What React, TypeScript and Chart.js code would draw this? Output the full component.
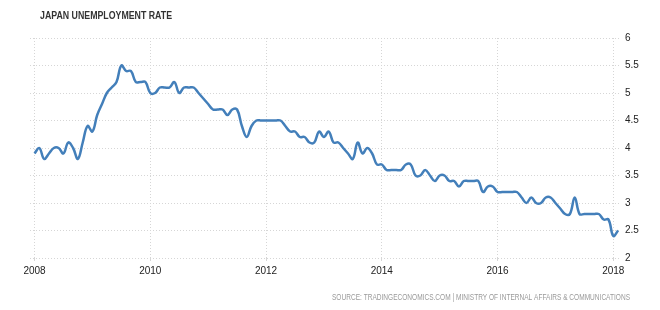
import React, { useEffect, useRef } from "react";
import { Chart, registerables } from "chart.js";

Chart.register(...registerables);

const TITLE = "JAPAN UNEMPLOYMENT RATE";
const SOURCE = "SOURCE: TRADINGECONOMICS.COM | MINISTRY OF INTERNAL AFFAIRS & COMMUNICATIONS";

const START_YEAR = 2008;
const rate2008 = [3.9, 4.0, 3.8, 3.9, 4.0, 4.0, 3.9, 4.1, 4.0, 3.8, 4.1, 4.4];
const rate2009 = [4.3, 4.6, 4.8, 5.0, 5.1, 5.2, 5.5, 5.4, 5.4, 5.2, 5.2, 5.2];
const rate2010 = [5.0, 5.0, 5.1, 5.1, 5.1, 5.2, 5.0, 5.1, 5.1, 5.1, 5.0, 4.9];
const rate2011 = [4.8, 4.7, 4.7, 4.7, 4.6, 4.7, 4.7, 4.4, 4.2, 4.4, 4.5, 4.5];
const rate2012 = [4.5, 4.5, 4.5, 4.5, 4.4, 4.3, 4.3, 4.2, 4.2, 4.1, 4.1, 4.3];
const rate2013 = [4.2, 4.3, 4.1, 4.1, 4.0, 3.9, 3.8, 4.1, 3.9, 4.0, 3.9, 3.7];
const rate2014 = [3.7, 3.6, 3.6, 3.6, 3.6, 3.7, 3.7, 3.5, 3.5, 3.6, 3.5, 3.4];
const rate2015 = [3.5, 3.5, 3.4, 3.4, 3.3, 3.4, 3.4, 3.4, 3.4, 3.2, 3.3, 3.3];
const rate2016 = [3.2, 3.2, 3.2, 3.2, 3.2, 3.1, 3.0, 3.1, 3.0, 3.0, 3.1, 3.1];
const rate2017 = [3.0, 2.9, 2.8, 2.8, 3.1, 2.8, 2.8, 2.8, 2.8, 2.8, 2.7, 2.7];
const rate2018 = [2.4, 2.5];

const yearlyRates = [
  rate2008, rate2009, rate2010, rate2011, rate2012, rate2013,
  rate2014, rate2015, rate2016, rate2017, rate2018,
];

const xTickYears = [2008, 2010, 2012, 2014, 2016, 2018];
const yTickValues = [2, 2.5, 3, 3.5, 4, 4.5, 5, 5.5, 6];

const FONT = "'Liberation Sans', Arial, sans-serif";
const PX_PER_YEAR = 57.88;

const textPlugin = {
  id: "staticTexts",
  afterDraw(chart: any) {
    const ctx = chart.ctx;
    ctx.save();
    ctx.textBaseline = "middle";
    ctx.fillStyle = "#333333";
    ctx.font = `bold 10px ${FONT}`;
    ctx.textAlign = "left";
    ctx.fillText(TITLE, 40, 16, 132);
    ctx.fillStyle = "#9a9a9a";
    ctx.font = `9px ${FONT}`;
    ctx.textAlign = "right";
    ctx.fillText(SOURCE, 630, 298, 298);
    ctx.restore();
  },
};

export default function App() {
  const ref = useRef<HTMLCanvasElement | null>(null);

  useEffect(() => {
    if (!ref.current) return;
    const points = yearlyRates.flatMap((arr, yi) =>
      arr.map((v, m) => ({ x: START_YEAR + yi + m / 12, y: v }))
    );
    const chart = new Chart(ref.current, {
      type: "line",
      data: {
        datasets: [
          {
            label: "Unemployment rate",
            data: points,
            borderColor: "#437fba",
            borderWidth: 2.5,
            pointRadius: 0,
            tension: 0.4,
            fill: false,
          },
        ],
      },
      options: {
        animation: false,
        responsive: false,
        maintainAspectRatio: false,
        layout: { padding: { top: 38, left: 30, right: 0, bottom: 0 } },
        plugins: {
          legend: { display: false },
          tooltip: { enabled: false },
          title: { display: false },
        },
        scales: {
          x: {
            type: "linear",
            min: 2008 - 4.5 / PX_PER_YEAR,
            max: 2018 + 6.7 / PX_PER_YEAR,
            afterBuildTicks: (s: any) => {
              s.ticks = xTickYears.map((v) => ({ value: v }));
            },
            afterFit: (s: any) => {
              s.height = 52;
            },
            grid: { color: "#d6d6d6", tickLength: 3, drawTicks: true },
            border: { display: false, dash: [1, 2] },
            ticks: {
              color: "#222222",
              font: { family: FONT, size: 10 },
              padding: 4,
              maxRotation: 0,
              callback: (v: any) => String(v),
            },
          },
          y: {
            position: "right",
            min: 2,
            max: 6,
            afterBuildTicks: (s: any) => {
              s.ticks = yTickValues.map((v) => ({ value: v }));
            },
            afterFit: (s: any) => {
              s.width = 40;
            },
            grid: { color: "#d6d6d6", drawTicks: false },
            border: { display: false, dash: [1, 2] },
            ticks: {
              color: "#222222",
              font: { family: FONT, size: 10 },
              padding: 5,
              callback: (v: any) => String(v),
            },
          },
        },
      },
      plugins: [textPlugin],
    });
    return () => chart.destroy();
  }, []);

  return (
    <div style={{ position: "fixed", left: 0, top: 0, width: 660, height: 310, background: "#ffffff" }}>
      <canvas ref={ref} width={660} height={310} style={{ width: 660, height: 310 }} />
    </div>
  );
}
